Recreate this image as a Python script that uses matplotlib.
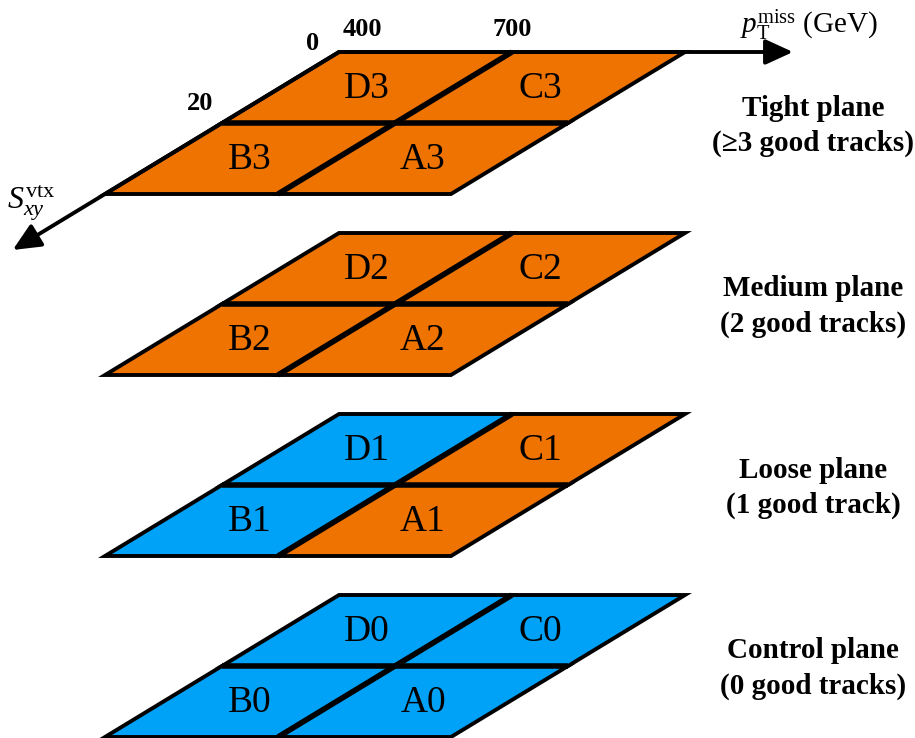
import matplotlib.pyplot as plt
from matplotlib.patches import Polygon, FancyArrowPatch

plt.rcParams['font.family'] = ['Liberation Serif', 'DejaVu Serif']
plt.rcParams['mathtext.fontset'] = 'custom'
plt.rcParams['mathtext.rm'] = 'Liberation Serif'
plt.rcParams['mathtext.it'] = 'Liberation Serif:italic'

ORANGE = '#EF7300'
BLUE = '#00A2F8'

# planes from top to bottom
plane_names = ["Tight plane", "Medium plane", "Loose plane", "Control plane"]
plane_tracks = ["(\u22653 good tracks)", "(2 good tracks)", "(1 good track)", "(0 good tracks)"]
plane_ids = ["3", "2", "1", "0"]
# cells: D (low Sxy, low pT), C, B, A
cell_letters = ["D", "C", "B", "A"]
cell_uv = [(0, 0), (1, 0), (0, 1), (1, 1)]
cell_colors = [
    [ORANGE, ORANGE, ORANGE, ORANGE],
    [ORANGE, ORANGE, ORANGE, ORANGE],
    [BLUE, ORANGE, BLUE, ORANGE],
    [BLUE, BLUE, BLUE, BLUE],
]
pt_ticks = ["400", "700"]
sxy_ticks = ["0", "20"]

# geometry of one plane in pixels
X0, Y0 = 339, 52      # top-left corner of top plane
W, H = 346, 142       # width along pT, depth along Sxy
SHEAR = 234           # leftward shift over the depth
GAP = 181             # vertical spacing between planes


def pt(u, v, k):
    return (X0 + W * u - SHEAR * v, Y0 + GAP * k + H * v)


fig = plt.figure(figsize=(9.15, 7.38), dpi=100)
ax = fig.add_axes([0, 0, 1, 1])
ax.set_xlim(0, 915)
ax.set_ylim(738, 0)
ax.axis('off')

for k in range(len(plane_names)):
    for c, (i, j) in enumerate(cell_uv):
        u0, u1 = i * 0.5, (i + 1) * 0.5
        v0, v1 = j * 0.5, (j + 1) * 0.5
        corners = [pt(u0, v0, k), pt(u1, v0, k), pt(u1, v1, k), pt(u0, v1, k)]
        ax.add_patch(Polygon(corners, closed=True, facecolor=cell_colors[k][c],
                             edgecolor='black', lw=2.8, joinstyle='miter', zorder=2))
        cx, cy = pt((u0 + u1) / 2, (v0 + v1) / 2, k)
        ax.text(cx, cy + 1, cell_letters[c] + plane_ids[k], ha='center', va='center',
                fontsize=27, zorder=4)
    # thicker dividers
    a, b = pt(0.5, 0, k), pt(0.5, 1, k)
    ax.plot([a[0], b[0]], [a[1], b[1]], color='black', lw=4.0, zorder=3,
            solid_capstyle='butt')
    a, b = pt(0, 0.5, k), pt(1, 0.5, k)
    ax.plot([a[0], b[0]], [a[1], b[1]], color='black', lw=4.0, zorder=3,
            solid_capstyle='butt')

    tx = 813
    ty = (pt(0, 0, k)[1] + pt(0, 1, k)[1]) / 2
    ax.text(tx, ty - 15, plane_names[k], ha='center', va='center',
            fontsize=21, fontweight='bold')
    ax.text(tx, ty + 20, plane_tracks[k], ha='center', va='center',
            fontsize=21, fontweight='bold')

# axes arrows on the top plane
origin = pt(0, 0, 0)
ax.add_patch(FancyArrowPatch(origin, (793, origin[1]), arrowstyle='-|>,head_length=1.2,head_width=0.55',
                             mutation_scale=14, lw=2.8, color='black', zorder=5,
                             shrinkA=0, shrinkB=0))
v_end = (250 - Y0) / H
ax.add_patch(FancyArrowPatch(origin, pt(0, v_end, 0), arrowstyle='-|>,head_length=1.2,head_width=0.55',
                             mutation_scale=14, lw=2.8, color='black', zorder=5,
                             shrinkA=0, shrinkB=0))

ax.text(740, 33, r'$p_{\mathrm{T}}^{\mathrm{miss}}$ (GeV)', ha='left', va='baseline', fontsize=21)
ax.text(7, 203, r'$S_{xy}^{\mathrm{vtx}}$', ha='left', va='center', fontsize=23)

# tick labels
for lab, u in zip(pt_ticks, [0.0, 0.5]):
    x, y = pt(u, 0, 0)
    ax.text(x + (23 if u == 0 else 0), y - 22, lab, ha='center', va='center',
            fontsize=19, fontweight='bold')
for lab, v in zip(sxy_ticks, [0.0, 0.5]):
    x, y = pt(0, v, 0)
    ax.text(x - (26 if v == 0 else 22), y - (9 if v == 0 else 19), lab, ha='center', va='center',
            fontsize=19, fontweight='bold')

fig.savefig('out.png', dpi=100)
